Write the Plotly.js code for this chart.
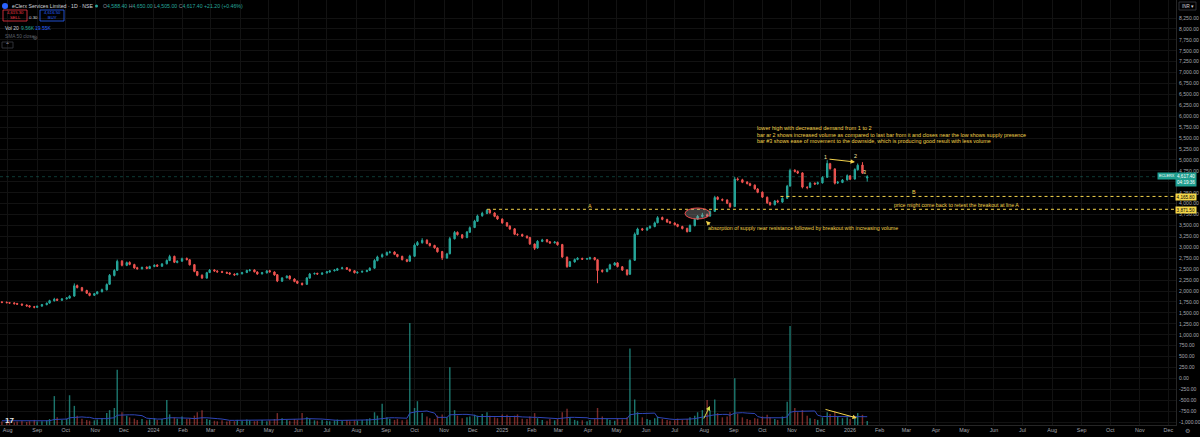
<!DOCTYPE html>
<html>
<head>
<meta charset="utf-8">
<script src="https://cdn.plot.ly/plotly-3.0.1.min.js"></script>
<style>
  html,body{margin:0;padding:0;background:#000;}
  #chart{width:1200px;height:437px;}
</style>
</head>
<body>
<div id="chart"></div>
<script>
// ---------------- DATA (3-session candles) ----------------
const firstSession = '2023-07-26';
const sessionsPerCandle = 3;

const opens = [1750,1742,1733,1728,1712,1702,1678,1662,1642,1628,
1655,1688,1724,1776,1812,1788,1822,1838,1885,2125,
2078,2012,1948,1902,1938,1984,2028,2155,2355,2475,
2685,2588,2655,2606,2534,2508,2545,2516,2562,2594,
2568,2624,2698,2795,2655,2684,2745,2716,2604,2446,
2364,2296,2424,2484,2456,2444,2426,2414,2386,2374,
2396,2424,2466,2484,2436,2394,2416,2464,2436,2374,
2226,2304,2344,2276,2224,2176,2154,2296,2394,2404,
2386,2414,2436,2464,2476,2514,2534,2496,2464,2416,
2434,2446,2474,2524,2696,2784,2826,2884,2894,2836,
2794,2716,2684,2796,3054,3106,3164,3086,3044,2986,
2904,2756,2854,3196,3344,3286,3224,3346,3454,3596,
3724,3776,3854,3786,3714,3646,3564,3486,3424,3296,
3294,3256,3224,3076,2984,3136,3174,3126,3104,3116,
3064,2776,2564,2666,2724,2746,2734,2736,2764,2716,
2474,2446,2504,2596,2644,2556,2484,2384,2704,3296,
3424,3396,3444,3476,3564,3684,3636,3584,3556,3524,
3476,3434,3364,3496,3644,3706,3744,3716,3824,4146,
4096,4084,4006,3934,4566,4546,4494,4456,4424,4336,
4264,4146,4024,3976,4064,4036,4124,4404,4764,4736,
4704,4376,4374,4466,4454,4476,4604,4916,4796,4474,
4486,4544,4636,4564,4776,4884,4588.4];

const highs = [1768,1760,1748,1745,1730,1715,1695,1680,1660,1668,
1705,1738,1800,1845,1830,1838,1862,1905,2175,2150,
2095,2030,1965,1958,2002,2055,2175,2390,2500,2720,
2710,2675,2680,2625,2555,2560,2565,2580,2612,2615,
2640,2725,2830,2810,2705,2765,2770,2730,2620,2460,
2380,2440,2505,2500,2478,2465,2445,2432,2405,2418,
2440,2490,2505,2498,2452,2438,2482,2485,2450,2390,
2318,2362,2358,2292,2240,2195,2320,2415,2425,2420,
2430,2460,2482,2500,2530,2555,2548,2512,2478,2450,
2470,2490,2545,2730,2810,2860,2905,2920,2910,2852,
2810,2735,2830,3090,3145,3210,3185,3105,3060,3000,
2920,2875,3240,3375,3365,3305,3375,3480,3630,3750,
3815,3878,3870,3805,3730,3665,3580,3505,3440,3320,
3315,3275,3240,3090,3165,3195,3190,3145,3145,3132,
3080,2790,2690,2745,2775,2765,2760,2785,2780,2730,
2495,2520,2625,2665,2660,2572,2498,2730,3340,3450,
3445,3465,3505,3590,3715,3705,3655,3600,3575,3540,
3495,3450,3525,3665,3740,3790,3775,3850,4180,4170,
4120,4100,4025,4610,4600,4570,4515,4480,4440,4355,
4280,4165,4045,4085,4090,4145,4430,4800,4790,4760,
4720,4400,4495,4490,4505,4630,4995,4935,4810,4520,
4565,4670,4655,4810,4920,4950,4650];

const lows = [1722,1718,1705,1695,1688,1662,1645,1622,1605,1615,
1640,1675,1712,1760,1772,1775,1805,1825,1870,2060,
1990,1932,1880,1888,1925,1970,2015,2140,2335,2460,
2565,2570,2590,2510,2490,2495,2500,2505,2545,2552,
2555,2610,2685,2640,2635,2670,2700,2585,2430,2340,
2275,2285,2410,2440,2420,2412,2392,2372,2350,2360,
2380,2410,2450,2425,2372,2378,2402,2425,2350,2205,
2210,2290,2262,2200,2160,2125,2140,2282,2378,2372,
2370,2400,2420,2448,2462,2498,2485,2442,2402,2398,
2418,2432,2460,2510,2680,2765,2810,2860,2822,2770,
2700,2660,2670,2780,3030,3085,3070,3020,2970,2880,
2710,2740,2840,3180,3270,3195,3210,3330,3440,3580,
3700,3760,3770,3690,3630,3540,3470,3400,3280,3265,
3240,3200,3055,2940,2970,3120,3110,3082,3088,3040,
2760,2530,2550,2650,2705,2712,2715,2720,2700,2180,
2420,2430,2490,2580,2540,2460,2350,2370,2690,3280,
3380,3380,3425,3460,3550,3620,3560,3540,3500,3460,
3410,3340,3350,3480,3625,3680,3690,3700,3810,4080,
4055,3990,3905,3920,4525,4470,4440,4400,4320,4240,
4130,3995,3950,3960,4020,4020,4110,4390,4715,4680,
4350,4330,4360,4430,4435,4460,4590,4780,4440,4450,
4470,4530,4540,4550,4760,4680,4505];

const closes = [1740,1735,1725,1710,1700,1680,1660,1640,1630,1650,
1690,1720,1780,1810,1790,1820,1840,1880,2120,2080,
2010,1950,1900,1940,1980,2030,2150,2360,2470,2680,
2590,2650,2610,2530,2510,2540,2520,2560,2590,2570,
2620,2700,2790,2660,2680,2740,2720,2600,2450,2360,
2300,2420,2480,2460,2440,2430,2410,2390,2370,2400,
2420,2470,2480,2440,2390,2420,2460,2440,2370,2230,
2300,2340,2280,2220,2180,2150,2300,2390,2400,2390,
2410,2440,2460,2480,2510,2530,2500,2460,2420,2430,
2450,2470,2520,2700,2780,2830,2880,2890,2840,2790,
2720,2680,2800,3050,3110,3160,3090,3040,2990,2900,
2760,2850,3200,3340,3290,3220,3350,3450,3600,3720,
3780,3850,3790,3710,3650,3560,3490,3420,3300,3290,
3260,3220,3080,2980,3140,3170,3130,3100,3120,3060,
2780,2560,2670,2720,2750,2730,2740,2760,2720,2470,
2450,2500,2600,2640,2560,2480,2380,2700,3300,3420,
3400,3440,3480,3560,3680,3640,3580,3560,3520,3480,
3430,3360,3500,3640,3710,3740,3720,3820,4140,4100,
4080,4010,3930,4560,4550,4490,4460,4420,4340,4260,
4150,4020,3980,4060,4040,4120,4400,4760,4740,4700,
4380,4370,4470,4450,4480,4600,4920,4800,4470,4490,
4540,4640,4560,4780,4880,4700,4617.4];

// volume in thousands of shares
const volumesK = [8,7,9,6,8,10,7,9,12,8,
9,11,14,68,18,12,15,70,45,22,
15,12,10,11,13,16,28,35,40,130,
30,22,18,15,12,14,11,13,16,12,
14,59,25,18,15,20,14,16,22,30,
35,14,12,10,9,11,8,10,9,12,
10,13,11,9,10,12,9,11,14,28,
16,12,10,14,12,28,18,14,11,10,
12,10,9,11,13,10,12,9,11,10,
12,14,16,30,22,50,18,15,12,14,
11,13,240,40,56,28,20,16,14,22,
25,18,136,35,22,16,18,20,24,22,
26,30,22,18,16,25,24,18,22,25,
15,14,20,28,16,12,10,14,11,15,
30,38,18,12,10,11,9,12,14,40,
20,14,12,10,15,13,18,180,60,30,
18,14,12,16,20,14,12,10,11,15,
12,14,18,22,30,35,59,35,60,28,
18,20,30,110,26,18,14,12,16,15,
20,24,18,14,12,20,55,233,40,30,
35,22,16,14,12,18,30,26,32,20,
16,18,14,20,28,24,9.56];

// Volume SMA 20 (thousands)
const volSmaK = [10,10,10,10,9,9,9,9,9,9,
9,9,10,13,13,13,14,17,18,19,
19,18,18,15,15,14,15,16,17,23,
24,24,24,24,23,22,16,15,14,14,
14,17,17,17,17,17,16,16,15,16,
17,17,16,16,15,14,12,11,11,11,
11,11,11,11,11,11,11,11,11,12,
13,13,13,13,13,14,15,15,15,14,
14,13,12,11,11,11,11,11,11,11,
11,11,12,13,14,16,17,17,17,17,
17,16,28,30,32,32,33,31,28,18,
18,18,24,25,25,25,25,24,23,20,
20,21,21,21,20,20,20,20,20,20,
19,18,18,18,18,17,17,16,15,15,
16,18,18,18,18,18,17,15,15,16,
16,16,16,15,15,15,15,24,26,27,
27,27,28,28,18,16,14,14,13,13,
13,13,14,15,16,18,20,22,24,25,
25,25,23,28,29,29,28,28,27,20,
17,17,17,17,16,17,19,30,32,32,
33,33,33,33,23,20,20,20,20,21,
21,21,20,20,20,20,19.55];

const monthLabels = ['Aug','Sep','Oct','Nov','Dec',
'2024','Feb','Mar','Apr','May','Jun','Jul','Aug','Sep','Oct','Nov','Dec',
'2025','Feb','Mar','Apr','May','Jun','Jul','Aug','Sep','Oct','Nov','Dec',
'2026','Feb','Mar','Apr','May','Jun','Jul','Aug','Sep','Oct','Nov','Dec'];
const firstTickMonth = '2023-08-01';

// price scale ticks (every 250 from -1,000 to 8,250); 4,500 is hidden under the last-price tag
const priceTickMin = -1000, priceTickMax = 8250, priceTickStep = 250;
const hiddenPriceTicks = [4500];

const levelA = 3871.50, levelAStart = '2024-12-16';
const levelB = 4165.80, levelBStart = '2025-10-20';
const lastPrice = 4617.40;

// ---------------- helpers ----------------
function iso(d){return d.toISOString().slice(0,10);}
function sessionDates(start, n, step){
  const out=[]; const d=new Date(start+'T00:00:00Z'); out.push(iso(d));
  while(out.length<n){let k=0; while(k<step){d.setUTCDate(d.getUTCDate()+1); const w=d.getUTCDay(); if(w!==0&&w!==6)k++;} out.push(iso(d));}
  return out;
}
function monthDates(start, n){
  const out=[]; const d=new Date(start+'T00:00:00Z');
  for(let i=0;i<n;i++){out.push(iso(d)); d.setUTCMonth(d.getUTCMonth()+1);}
  return out;
}
const dates = sessionDates(firstSession, closes.length, sessionsPerCandle);
const tickDates = monthDates(firstTickMonth, monthLabels.length);

const priceTickVals=[], priceTickText=[];
for(let v=priceTickMin; v<=priceTickMax; v+=priceTickStep){
  priceTickVals.push(v);
  const s = Math.abs(v).toLocaleString('en-US',{minimumFractionDigits:2,maximumFractionDigits:2});
  priceTickText.push(hiddenPriceTicks.includes(v) ? '' : (v<0?'-':'')+s);
}

const UP='#26a69a', DN='#ef5350', YEL='#f2d24b';
const FONT='Liberation Sans, Arial, sans-serif';
const W=1176, H=425;
const px=x=>x/W, py=y=>1-y/H;

const volColors = closes.map((c,i)=> c>=opens[i] ? 'rgba(38,166,154,0.7)' : 'rgba(239,83,80,0.5)');

const traces = [
  {type:'bar', x:dates, y:volumesK, yaxis:'y2', marker:{color:volColors, line:{width:0}},
   width:1.5*86400000, hoverinfo:'skip'},
  {type:'scatter', mode:'lines', x:dates, y:volSmaK, yaxis:'y2',
   line:{color:'#2f46b8', width:1}, hoverinfo:'skip'},
  {type:'candlestick', x:dates, open:opens, high:highs, low:lows, close:closes,
   increasing:{line:{color:UP,width:1}, fillcolor:UP},
   decreasing:{line:{color:DN,width:1}, fillcolor:DN},
   whiskerwidth:0, hoverinfo:'skip'}
];

function T(x,y,text,size,color,extra){
  return Object.assign({xref:'paper',yref:'paper',x:px(x),y:py(y),text:text,showarrow:false,
    xanchor:'left',yanchor:'middle',font:{family:FONT,size:size,color:color}},extra||{});
}
function ARW(x,y,ax,ay,color){
  return {xref:'paper',yref:'paper',x:px(x),y:py(y),ax:ax,ay:ay,text:'',showarrow:true,
    arrowhead:2,arrowsize:0.9,arrowwidth:1,arrowcolor:color};
}

const ohlc = "<span style='color:#8a8d96'>O</span><span style='color:#26a69a'>4,588.40</span> "+
  "<span style='color:#8a8d96'>H</span><span style='color:#26a69a'>4,650.00</span> "+
  "<span style='color:#8a8d96'>L</span><span style='color:#26a69a'>4,505.00</span> "+
  "<span style='color:#8a8d96'>C</span><span style='color:#26a69a'>4,617.40 +21.20 (+0.46%)</span>";

const annotations = [
  // header
  T(10,6,'eClerx Services Limited · 1D · NSE',5.2,'#d1d4dc'),
  T(101,6,ohlc,5.2,'#26a69a'),
  T(15,15,'4,615.30<br>SELL',4.2,'#f23645',{xanchor:'center'}),
  T(33,17,'0.30',4.4,'#d1d4dc',{xanchor:'center'}),
  T(52,15,'4,616.50<br>BUY',4.2,'#2962ff',{xanchor:'center'}),
  T(3,28,'Vol 20',5,'#d1d4dc'),
  T(18.5,28,'9.56K',5,'#26a69a'),
  T(32.5,28,'19.55K',5,'#2962ff'),
  T(3,37,'SMA 50 close',4.8,'#5d606b'),
  T(31,37,'◎',5,'#8a8d96'),
  T(7.5,45,'⌃',6,'#b2b5be',{xanchor:'center'}),
  T(1187.5,6,'INR ▾',4.5,'#d1d4dc',{xanchor:'center'}),
  // drawings: price pane
  T(755,128,'lower high with decreased demand from 1 to 2',5.6,YEL),
  T(755,135,'bar ar 2 shows increased volume as compared to last bar from it and closes near the low shows supply presence',5.4,YEL),
  T(755,141,'bar #3 shows ease of movement to the downside, which is producing good result with less volume',5.4,YEL),
  T(825,157,'1',5.4,'#f3e6a0',{xanchor:'center'}),
  T(855,156,'2',5.4,'#f3e6a0',{xanchor:'center'}),
  T(864,172,'3',5.4,'#f3e6a0',{xanchor:'center'}),
  ARW(855,162,-27,-3,YEL),
  T(590,206,'A',5.4,YEL,{xanchor:'center'}),
  T(914,192,'B',5.4,YEL,{xanchor:'center'}),
  T(892,205,'price might come back to retest the breakout at line A',5.3,YEL),
  T(706,228,'absorption of supply near resistance followed by breakout with increasing volume',5.3,YEL),
  ARW(706,221,5,5,YEL),
  // drawings: volume pane
  ARW(710,406,-7,14,'#cfe04a'),
  ARW(857,418,-33,-9,YEL),
  // axis price labels
  T(1167,176,'ECLERX',3.8,'#ffffff',{xanchor:'center',bgcolor:'#1f9e8f',borderpad:1}),
  T(1186,179,'4,617.40<br>04:19:36',4.6,'#ffffff',{xanchor:'center',bgcolor:'#1f9e8f',borderpad:1}),
  T(1186,196.8,'4,165.80',4.6,'#000000',{xanchor:'center',bgcolor:'#f5d84a',borderpad:0.6}),
  T(1186,209.5,'3,871.50',4.6,'#000000',{xanchor:'center',bgcolor:'#f5d84a',borderpad:0.6}),
  // footer
  T(3,420,'<b>17</b>',8,'#e8e8e8'),
  T(1187,431,'⚙',6,'#8a8d96',{xanchor:'center'})
];

const shapes = [
  {type:'line',xref:'paper',yref:'y',x0:0,x1:1,y0:lastPrice,y1:lastPrice,line:{color:'rgba(38,166,154,0.5)',width:0.7,dash:'dot'}},
  {type:'line',xref:'x',yref:'y',x0:levelAStart,x1:'2026-12-09',y0:levelA,y1:levelA,line:{color:YEL,width:1,dash:'dot'}},
  {type:'line',xref:'x',yref:'y',x0:levelBStart,x1:'2026-12-09',y0:levelB,y1:levelB,line:{color:YEL,width:1,dash:'dot'}},
  {type:'circle',xref:'paper',yref:'paper',x0:px(685),x1:px(710),y0:py(219),y1:py(208),
   line:{color:'#e84b4b',width:1},fillcolor:'rgba(170,170,170,0.35)'},
  {type:'circle',xref:'paper',yref:'paper',x0:px(2),x1:px(8),y0:py(9),y1:py(3),line:{width:0},fillcolor:'#2962ff'},
  {type:'circle',xref:'paper',yref:'paper',x0:px(95),x1:px(98),y0:py(7.5),y1:py(4.5),line:{width:0},fillcolor:'#26a69a'},
  {type:'rect',xref:'paper',yref:'paper',x0:px(3),x1:px(27),y0:py(21),y1:py(10),line:{color:'#f23645',width:0.8}},
  {type:'rect',xref:'paper',yref:'paper',x0:px(40),x1:px(64),y0:py(21),y1:py(10),line:{color:'#2962ff',width:0.8}},
  {type:'rect',xref:'paper',yref:'paper',x0:px(2),x1:px(13),y0:py(48),y1:py(42),line:{color:'#3a3d45',width:0.8}},
  {type:'rect',xref:'paper',yref:'paper',x0:px(1179),x1:px(1196),y0:py(10),y1:py(2),line:{color:'#3a3d45',width:0.8}}
];

const layout = {
  width:1200, height:437,
  margin:{l:0,r:24,t:0,b:12,pad:0},
  paper_bgcolor:'#000000', plot_bgcolor:'#000000',
  showlegend:false, hovermode:false, dragmode:false,
  font:{family:FONT,color:'#a3a6af',size:5.4},
  xaxis:{type:'date', range:['2023-07-24','2026-12-09'], rangeslider:{visible:false},
    tickmode:'array', tickvals:tickDates, ticktext:monthLabels, ticks:'', ticklen:0,
    tickfont:{family:FONT,size:5.4,color:'#a3a6af'},
    showgrid:true, gridcolor:'#121212', gridwidth:1, zeroline:false,
    showline:true, linecolor:'#262626', automargin:false, fixedrange:true},
  yaxis:{side:'right', range:[-1066,8662], tickmode:'array', tickvals:priceTickVals, ticktext:priceTickText,
    ticks:'', ticklabelstandoff:1,
    tickfont:{family:FONT,size:5.1,color:'#a3a6af'},
    showgrid:true, gridcolor:'#121212', gridwidth:1, zeroline:false,
    showline:true, linecolor:'#262626', automargin:false, fixedrange:true},
  yaxis2:{overlaying:'y', range:[0,1000], visible:false, showgrid:false, fixedrange:true},
  annotations:annotations,
  shapes:shapes
};

Plotly.newPlot('chart', traces, layout, {staticPlot:true, displayModeBar:false});
</script>
</body>
</html>
